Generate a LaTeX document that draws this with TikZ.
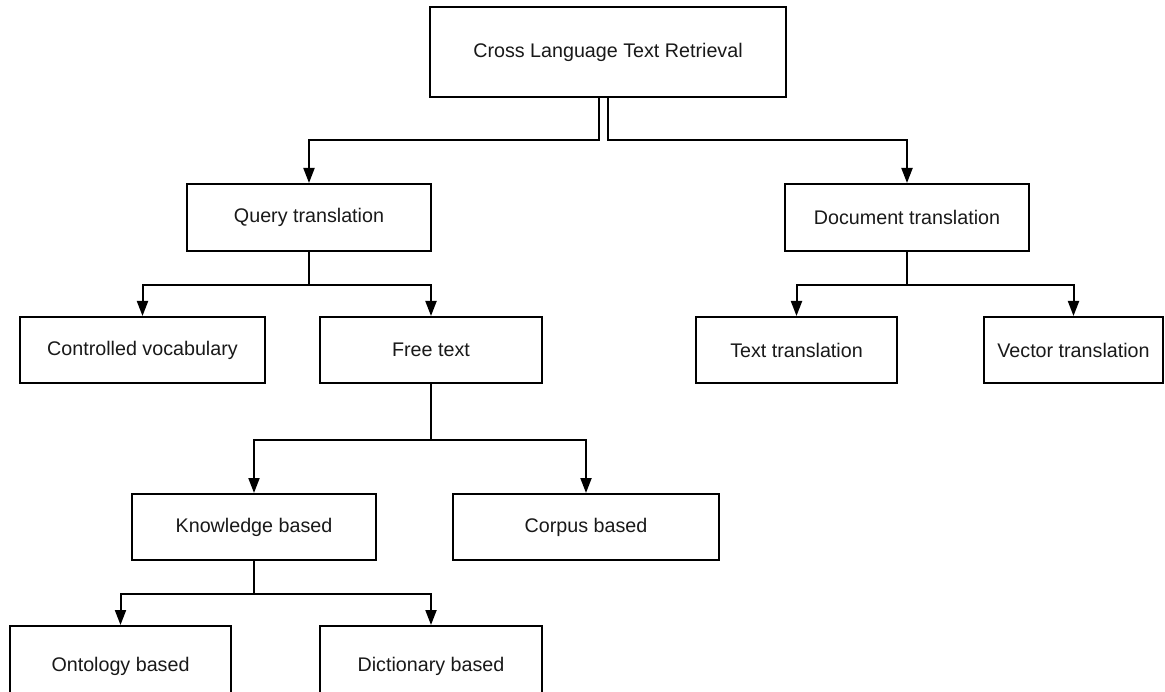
\documentclass[tikz,border=0pt]{standalone}
\usepackage{fontspec}
\setmainfont{Liberation Sans}
\usetikzlibrary{arrows.meta}
\begin{document}
\begin{tikzpicture}[x=1pt,y=-1pt,
  box/.style={draw=black,line width=2pt,fill=white,rectangle,inner sep=0pt,
    font=\fontsize{19.7}{24}\selectfont,text=black!90},
  link/.style={draw=black,line width=2pt,
    -{Triangle[length=15pt,width=11pt]}}]
\useasboundingbox (0,0) rectangle (1165,692);
\clip (0,0) rectangle (1165,692);
% boxes: centre, width, height
\node[box,minimum width=356pt,minimum height=90pt] (cltr) at (608,52) {Cross Language Text Retrieval};
\node[box,minimum width=244pt,minimum height=67pt] (qt) at (309,217.5) {Query translation};
\node[box,minimum width=244pt,minimum height=67pt] (dt) at (907,217.5) {Document translation};
\node[box,minimum width=245pt,minimum height=66pt] (cv) at (142.5,350) {Controlled vocabulary};
\node[box,minimum width=222pt,minimum height=66pt] (ft) at (431,350) {Free text};
\node[box,minimum width=201pt,minimum height=66pt] (tt) at (796.5,350) {Text translation};
\node[box,minimum width=179pt,minimum height=66pt] (vt) at (1073.5,350) {Vector translation};
\node[box,minimum width=244pt,minimum height=66pt] (kb) at (254,527) {Knowledge based};
\node[box,minimum width=266pt,minimum height=66pt] (cb) at (586,527) {Corpus based};
\node[box,minimum width=221pt,minimum height=80pt] (ob) at (120.5,666) {Ontology based};
\node[box,minimum width=222pt,minimum height=80pt] (db) at (431,666) {Dictionary based};
% connectors
\draw[link] ([xshift=-9pt]cltr.south) -- ++(0,42) -| (qt.north);
\draw[link] (cltr.south) -- ++(0,42) -| (dt.north);
\draw[link] (qt.south) -- ++(0,33) -| (cv.north);
\draw[link] (qt.south) -- ++(0,33) -| (ft.north);
\draw[link] (dt.south) -- ++(0,33) -| (tt.north);
\draw[link] (dt.south) -- ++(0,33) -| (vt.north);
\draw[link] (ft.south) -- ++(0,56) -| (kb.north);
\draw[link] (ft.south) -- ++(0,56) -| (cb.north);
\draw[link] (kb.south) -- ++(0,33) -| (ob.north);
\draw[link] (kb.south) -- ++(0,33) -| (db.north);
\end{tikzpicture}
\end{document}
